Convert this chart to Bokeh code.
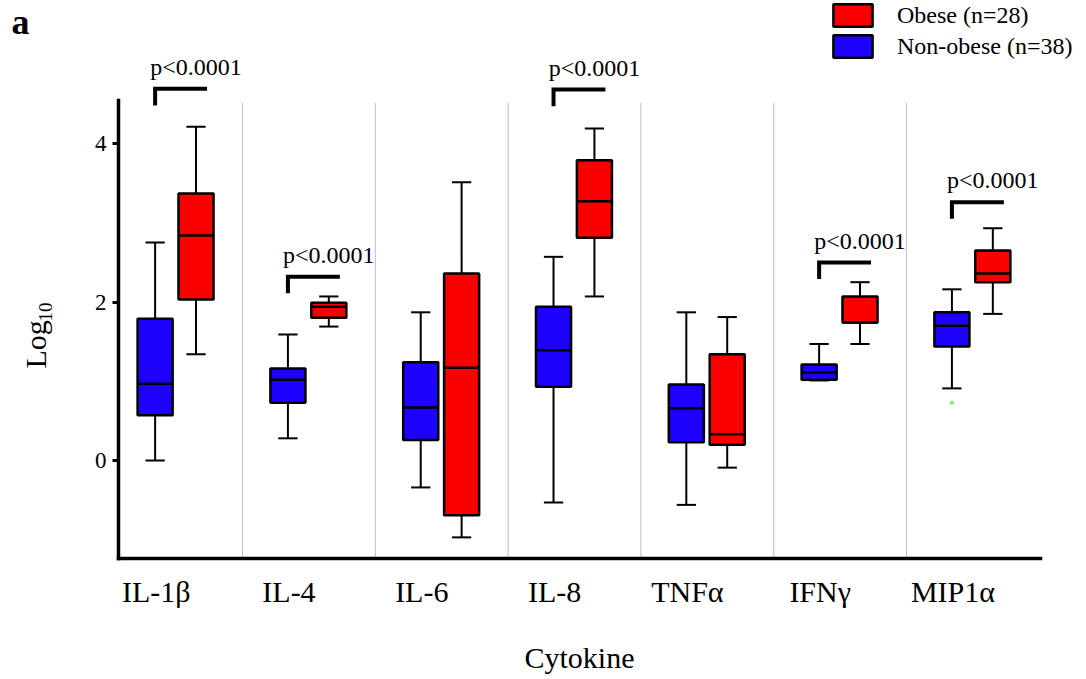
import math
from bokeh.plotting import figure
from bokeh.models import (ColumnDataSource, FixedTicker, Legend, LegendItem,
                          Label, Range1d, LinearAxis)
from bokeh.core.properties import value
from bokeh.embed import file_html
from bokeh.resources import INLINE

# ---------------- data ----------------
cytokines = ["IL-1β", "IL-4", "IL-6", "IL-8", "TNFα", "IFNγ", "MIP1α"]

# Non-obese (n=38)
nonobese_low = [0.00, 0.28, -0.34, -0.53, -0.56, 1.01, 0.91]
nonobese_q1 = [0.57, 0.73, 0.26, 0.93, 0.23, 1.02, 1.44]
nonobese_med = [0.97, 1.02, 0.67, 1.39, 0.66, 1.11, 1.70]
nonobese_q3 = [1.79, 1.16, 1.24, 1.94, 0.96, 1.21, 1.87]
nonobese_high = [2.75, 1.59, 1.87, 2.57, 1.87, 1.47, 2.16]

# Obese (n=28)
obese_low = [1.34, 1.69, -0.97, 2.07, -0.09, 1.47, 1.85]
obese_q1 = [2.03, 1.80, -0.69, 2.81, 0.20, 1.74, 2.25]
obese_med = [2.84, 1.94, 1.17, 3.27, 0.33, 1.74, 2.36]
obese_q3 = [3.37, 1.99, 2.36, 3.79, 1.34, 2.07, 2.65]
obese_high = [4.21, 2.07, 3.51, 4.19, 1.81, 2.25, 2.93]

# outliers (non-obese)
outlier_cat = [6]
outlier_val = [0.73]

# significance annotations
sig_cat = [0, 1, 3, 5, 6]
sig_level = [4.69, 2.32, 4.68, 2.50, 3.26]
sig_text = ["p<0.0001"] * 5

y_ticks = [0, 2, 4]

# ---------------- geometry (canvas pixels) ----------------
FONT = "Liberation Serif"
W, H = 1086, 679
X0_PAGE, PX_X = 109.2, 132.8    # pixel x of x=0, px per category
Y0_PAGE, PX_Y = 460.0, 79.25    # pixel y of y=0, px per unit


def px2x(px):
    return (px - X0_PAGE) / PX_X


def py2y(py):
    return (Y0_PAGE - py) / PX_Y


AX_LEFT_PX, AX_BOTTOM_PX, AX_TOP_PX, AX_RIGHT_PX = 118, 558, 100, 1040
spine_x = px2x(AX_LEFT_PX)
base_y = py2y(AX_BOTTOM_PX)
top_y = py2y(AX_TOP_PX)

DODGE_B, DODGE_R = -0.158, 0.15
BOX_W = 0.264
CAP_W = 0.145
BLUE = "#1e00ff"
RED = "#fb0000"

p = figure(width=W, height=H, output_backend="svg", toolbar_location=None,
           title=None, x_axis_location=None, y_axis_location=None,
           x_range=Range1d(px2x(0), px2x(W)), y_range=Range1d(py2y(H), py2y(0)),
           min_border=0)
p.outline_line_color = None
p.background_fill_color = "white"
p.border_fill_color = "white"
p.grid.visible = False

# separators between cytokines
n = len(cytokines)
p.segment(x0=list(range(1, n)), x1=list(range(1, n)),
          y0=[base_y] * (n - 1), y1=[py2y(102)] * (n - 1),
          line_color="#7a7a7a", line_width=1, line_dash="1 1")


def draw_group(dodge, low, q1, med, q3, high, color):
    xs = [i + 0.5 + dodge for i in range(n)]
    src = ColumnDataSource(dict(x=xs, low=low, q1=q1, med=med, q3=q3, high=high,
                                xl=[x - BOX_W / 2 for x in xs],
                                xr=[x + BOX_W / 2 for x in xs],
                                cl=[x - CAP_W / 2 for x in xs],
                                cr=[x + CAP_W / 2 for x in xs]))
    p.segment(x0="x", x1="x", y0="q3", y1="high", source=src,
              line_color="black", line_width=2)
    p.segment(x0="x", x1="x", y0="low", y1="q1", source=src,
              line_color="black", line_width=2)
    r = p.vbar(x="x", width=BOX_W, top="q3", bottom="q1", source=src,
               fill_color=color, line_color="black", line_width=2.5)
    p.segment(x0="xl", x1="xr", y0="med", y1="med", source=src,
              line_color="black", line_width=2.5)
    p.segment(x0="cl", x1="cr", y0="high", y1="high", source=src,
              line_color="black", line_width=2)
    p.segment(x0="cl", x1="cr", y0="low", y1="low", source=src,
              line_color="black", line_width=2)
    return r


r_blue = draw_group(DODGE_B, nonobese_low, nonobese_q1, nonobese_med,
                    nonobese_q3, nonobese_high, BLUE)
r_red = draw_group(DODGE_R, obese_low, obese_q1, obese_med,
                   obese_q3, obese_high, RED)

# outliers
p.scatter(x=[c + 0.5 + DODGE_B for c in outlier_cat], y=outlier_val,
          size=4, color="#5cff5c", line_color=None)

# significance brackets
bx = [c + 0.5 + DODGE_B for c in sig_cat]
rx = [c + 0.5 + DODGE_R for c in sig_cat]
p.multi_line(xs=[[a, a, b + 0.083] for a, b in zip(bx, rx)],
             ys=[[lv - 0.21, lv, lv] for lv in sig_level],
             line_color="black", line_width=4, line_join="miter", line_cap="butt")
p.text(x=rx, y=[lv + 0.276 for lv in sig_level], text=sig_text,
       text_font=value(FONT), text_font_size="24px", text_align="center",
       text_baseline="alphabetic", text_color="black")

# axes (fixed inside the canvas-wide frame, limited by bounds)
yaxis = LinearAxis(fixed_location=spine_x, ticker=FixedTicker(ticks=y_ticks),
                   bounds=(base_y, top_y))
yaxis.axis_line_color = "black"
yaxis.axis_line_width = 3.5
yaxis.axis_line_cap = "square"
yaxis.major_tick_line_width = 3
yaxis.major_tick_out = 6
yaxis.major_tick_in = 0
yaxis.minor_tick_line_color = None
yaxis.major_label_text_font = FONT
yaxis.major_label_text_font_size = "23px"
yaxis.major_label_text_color = "black"
yaxis.major_label_standoff = 6
p.add_layout(yaxis, "left")

tick_pos = [i + 0.35 for i in range(n)]
xaxis = LinearAxis(fixed_location=base_y, ticker=FixedTicker(ticks=tick_pos),
                   bounds=(spine_x, px2x(AX_RIGHT_PX)))
xaxis.major_label_overrides = {t: c for t, c in zip(tick_pos, cytokines)}
xaxis.axis_line_color = "black"
xaxis.axis_line_width = 3.5
xaxis.axis_line_cap = "square"
xaxis.major_tick_line_color = None
xaxis.minor_tick_line_color = None
xaxis.major_label_text_font = FONT
xaxis.major_label_text_font_size = "30px"
xaxis.major_label_text_color = "black"
xaxis.major_label_standoff = 10
p.add_layout(xaxis, "below")

# x axis title
p.add_layout(Label(x=px2x(579), y=py2y(657), text="Cytokine",
                   text_font=FONT, text_font_size="30px", text_color="black",
                   text_align="center", text_baseline="alphabetic"))

# y axis title "Log10" (rotated, with subscript)
p.add_layout(Label(x=px2x(35), y=py2y(368), text="Log", angle=math.pi / 2,
                   text_font=FONT, text_font_size="30px", text_color="black",
                   text_align="left", text_baseline="alphabetic"))
p.add_layout(Label(x=px2x(45), y=py2y(321), text="10", angle=math.pi / 2,
                   text_font=FONT, text_font_size="19px", text_color="black",
                   text_align="left", text_baseline="alphabetic"))

# panel letter
p.add_layout(Label(x=px2x(11), y=py2y(21), text="a", text_font=FONT,
                   text_font_size="36px", text_font_style="bold",
                   text_color="black", text_align="left",
                   text_baseline="alphabetic"))

# legend
legend = Legend(items=[LegendItem(label="Obese (n=28)", renderers=[r_red]),
                       LegendItem(label="Non-obese (n=38)", renderers=[r_blue])],
                location=(828, H - 60),
                orientation="vertical", glyph_width=49, glyph_height=28,
                label_height=28, spacing=3, padding=0, margin=0,
                label_standoff=20, label_text_font=FONT,
                label_text_font_size="24px", label_text_color="black",
                border_line_color=None, background_fill_alpha=0)
p.add_layout(legend)

open("out.html", "w").write(file_html(p, INLINE))
